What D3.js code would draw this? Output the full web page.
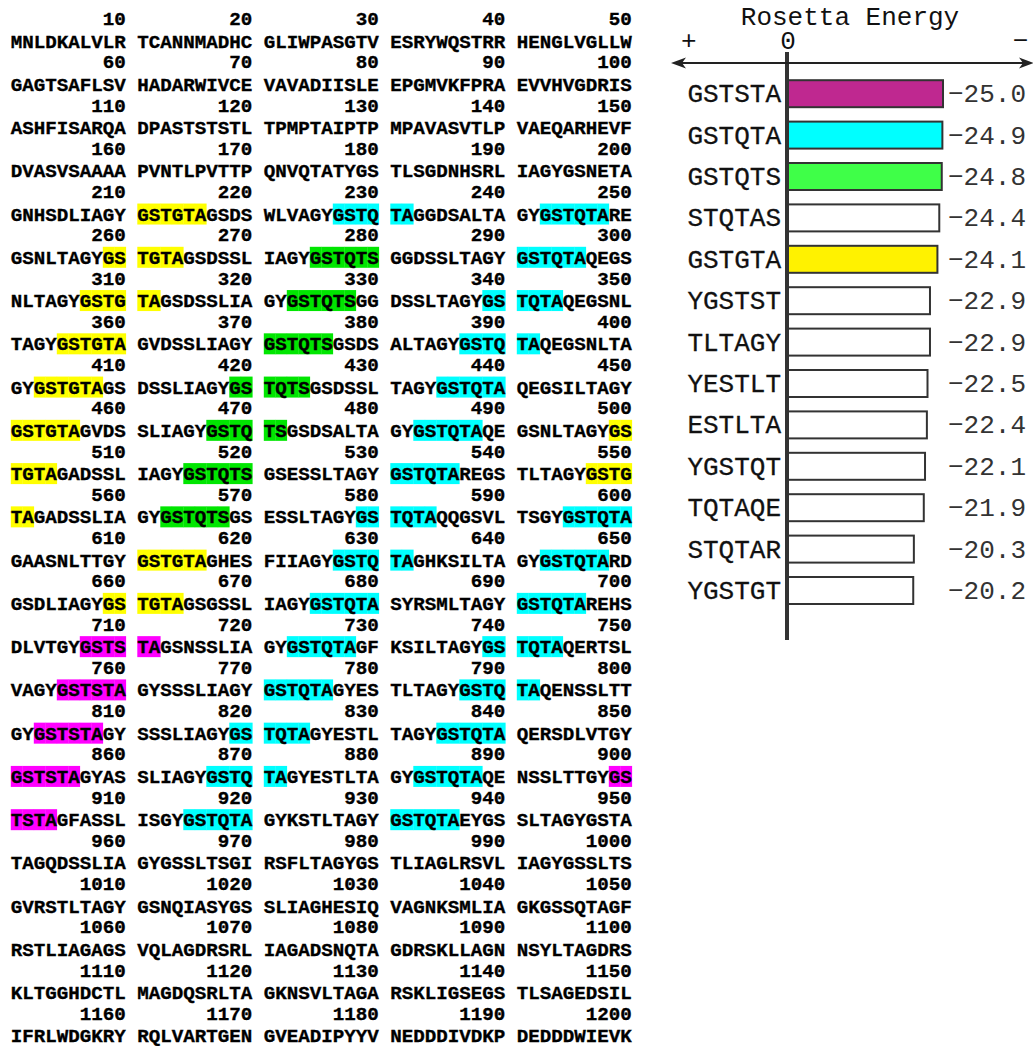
<!DOCTYPE html>
<html>
<head>
<meta charset="utf-8">
<script src="https://cdn.jsdelivr.net/npm/d3@7"></script>
<style>
  html, body { margin: 0; padding: 0; background: #fff; }
  svg { display: block; }
</style>
</head>
<body>
<svg id="fig" width="1033" height="1046"></svg>
<script>
// Protein sequence, one string per printed line (five blocks of ten residues)
const sequenceRows = [
  "MNLDKALVLR TCANNMADHC GLIWPASGTV ESRYWQSTRR HENGLVGLLW",
  "GAGTSAFLSV HADARWIVCE VAVADIISLE EPGMVKFPRA EVVHVGDRIS",
  "ASHFISARQA DPASTSTSTL TPMPTAIPTP MPAVASVTLP VAEQARHEVF",
  "DVASVSAAAA PVNTLPVTTP QNVQTATYGS TLSGDNHSRL IAGYGSNETA",
  "GNHSDLIAGY GSTGTAGSDS WLVAGYGSTQ TAGGDSALTA GYGSTQTARE",
  "GSNLTAGYGS TGTAGSDSSL IAGYGSTQTS GGDSSLTAGY GSTQTAQEGS",
  "NLTAGYGSTG TAGSDSSLIA GYGSTQTSGG DSSLTAGYGS TQTAQEGSNL",
  "TAGYGSTGTA GVDSSLIAGY GSTQTSGSDS ALTAGYGSTQ TAQEGSNLTA",
  "GYGSTGTAGS DSSLIAGYGS TQTSGSDSSL TAGYGSTQTA QEGSILTAGY",
  "GSTGTAGVDS SLIAGYGSTQ TSGSDSALTA GYGSTQTAQE GSNLTAGYGS",
  "TGTAGADSSL IAGYGSTQTS GSESSLTAGY GSTQTAREGS TLTAGYGSTG",
  "TAGADSSLIA GYGSTQTSGS ESSLTAGYGS TQTAQQGSVL TSGYGSTQTA",
  "GAASNLTTGY GSTGTAGHES FIIAGYGSTQ TAGHKSILTA GYGSTQTARD",
  "GSDLIAGYGS TGTAGSGSSL IAGYGSTQTA SYRSMLTAGY GSTQTAREHS",
  "DLVTGYGSTS TAGSNSSLIA GYGSTQTAGF KSILTAGYGS TQTAQERTSL",
  "VAGYGSTSTA GYSSSLIAGY GSTQTAGYES TLTAGYGSTQ TAQENSSLTT",
  "GYGSTSTAGY SSSLIAGYGS TQTAGYESTL TAGYGSTQTA QERSDLVTGY",
  "GSTSTAGYAS SLIAGYGSTQ TAGYESTLTA GYGSTQTAQE NSSLTTGYGS",
  "TSTAGFASSL ISGYGSTQTA GYKSTLTAGY GSTQTAEYGS SLTAGYGSTA",
  "TAGQDSSLIA GYGSSLTSGI RSFLTAGYGS TLIAGLRSVL IAGYGSSLTS",
  "GVRSTLTAGY GSNQIASYGS SLIAGHESIQ VAGNKSMLIA GKGSSQTAGF",
  "RSTLIAGAGS VQLAGDRSRL IAGADSNQTA GDRSKLLAGN NSYLTAGDRS",
  "KLTGGHDCTL MAGDQSRLTA GKNSVLTAGA RSKLIGSEGS TLSAGEDSIL",
  "IFRLWDGKRY RQLVARTGEN GVEADIPYYV NEDDDIVDKP DEDDDWIEVK"
];

// Hexapeptides ranked by Rosetta energy
const peptides = ["GSTSTA", "GSTQTA", "GSTQTS", "STQTAS", "GSTGTA", "YGSTST",
                  "TLTAGY", "YESTLT", "ESTLTA", "YGSTQT", "TQTAQE", "STQTAR", "YGSTGT"];
const energies = [-25.0, -24.9, -24.8, -24.4, -24.1, -22.9,
                  -22.9, -22.5, -22.4, -22.1, -21.9, -20.3, -20.2];

// Motifs marked in the sequence and in the bar chart
const motifs = ["GSTSTA", "GSTQTA", "GSTQTS", "GSTGTA"];

// Residue numbers printed above the end of each block
const residueTicks = d3.range(10, 1201, 10);

const svg = d3.select("#fig");

/* ---------------- sequence panel ---------------- */
const residues = sequenceRows.map(r => r.replace(/ /g, "")).join("");
const perRow = 50, blockLen = 10;

const markFill = d3.scaleOrdinal()
  .domain(motifs)
  .range(["#ff00ff", "#00ffff", "#00e600", "#ffff00"]);

// column index (counting the blank between blocks) -> x
const colX = d3.scaleLinear().domain([0, 54]).range([10.8, 10.8 + 54 * 11.5]);
const pitch = colX(1) - colX(0);
// line index -> baseline of the residue letters
const rowY = d3.scaleLinear().domain([0, 23]).range([47.5, 47.5 + 23 * 43.26]);

function cellOf(i) {            // i: zero-based residue index
  const row = Math.floor(i / perRow);
  const k = i % perRow;
  const col = Math.floor(k / blockLen) * (blockLen + 1) + (k % blockLen);
  return { row, col };
}

// motif occurrences along the sequence
const marks = [];
motifs.forEach(m => {
  let p = residues.indexOf(m);
  while (p !== -1) {
    for (let j = 0; j < m.length; j++) marks.push({ idx: p + j, motif: m });
    p = residues.indexOf(m, p + 1);
  }
});

const seqG = svg.append("g");

seqG.append("g").selectAll("rect")
  .data(marks)
  .join("rect")
  .attr("x", d => colX(cellOf(d.idx).col))
  .attr("y", d => rowY(cellOf(d.idx).row) - 17)
  .attr("width", pitch + 0.3)
  .attr("height", 21)
  .attr("fill", d => markFill(d.motif));

const monoBold = g => g
  .attr("font-family", "'Liberation Mono', 'Courier New', monospace")
  .attr("font-weight", "bold")
  .attr("font-size", 19.2)
  .attr("fill", "#000")
  .attr("stroke", "#000")
  .attr("stroke-width", 0.35);

seqG.append("g")
  .call(monoBold)
  .selectAll("text")
  .data(residues.split("").map((c, i) => ({ c, i })))
  .join("text")
  .attr("x", d => colX(cellOf(d.i).col) + pitch / 2)
  .attr("y", d => rowY(cellOf(d.i).row))
  .attr("text-anchor", "middle")
  .text(d => d.c);

seqG.append("g")
  .call(monoBold)
  .selectAll("text")
  .data(residueTicks)
  .join("text")
  .attr("x", n => colX(cellOf(n - 1).col) + pitch)
  .attr("y", n => rowY(cellOf(n - 1).row) - 22.5)
  .attr("text-anchor", "end")
  .text(n => n);

/* ---------------- Rosetta energy bars ---------------- */
const x = d3.scaleLinear().domain([0, -25]).range([788, 943]);
const y = d3.scaleBand()
  .domain(peptides)
  .range([73, 73 + 13 * 41.4])
  .paddingInner(0.348)
  .paddingOuter(0.174);

const barFill = d3.scaleOrdinal()
  .domain(motifs)
  .range(["#bf2890", "#00ffff", "#3fff48", "#fff200"])
  .unknown("#ffffff");

const chart = svg.append("g")
  .attr("font-family", "'Liberation Mono', 'Courier New', monospace");

const rows = peptides.map((p, i) => ({ p, e: energies[i] }));

chart.append("g").selectAll("rect")
  .data(rows)
  .join("rect")
  .attr("x", x(0))
  .attr("y", d => y(d.p))
  .attr("width", d => x(d.e) - x(0))
  .attr("height", y.bandwidth())
  .attr("fill", d => barFill(d.p))
  .attr("stroke", "#333")
  .attr("stroke-width", 2);

chart.append("g").selectAll("text")
  .data(rows)
  .join("text")
  .attr("x", 781)
  .attr("y", d => y(d.p) + y.bandwidth() / 2 + 8.5)
  .attr("text-anchor", "end")
  .attr("font-size", 26)
  .attr("fill", "#111")
  .attr("stroke", "#111")
  .attr("stroke-width", 0.3)
  .text(d => d.p);

const fmt = d3.format(".1f");
chart.append("g").selectAll("text")
  .data(rows)
  .join("text")
  .attr("x", 948)
  .attr("y", d => y(d.p) + y.bandwidth() / 2 + 8.5)
  .attr("font-size", 26)
  .attr("fill", "#333")
  .text(d => fmt(d.e));

// zero line
chart.append("line")
  .attr("x1", x(0) - 1).attr("x2", x(0) - 1)
  .attr("y1", 52).attr("y2", 640)
  .attr("stroke", "#333").attr("stroke-width", 4);

// double-headed direction arrow
const arrowY = 63;
chart.append("line")
  .attr("x1", 680).attr("x2", 1024)
  .attr("y1", arrowY).attr("y2", arrowY)
  .attr("stroke", "#222").attr("stroke-width", 2);
const head = (tip, dir) =>
  `M${tip},${arrowY} L${tip + dir * 15},${arrowY - 5.5} L${tip + dir * 11},${arrowY} L${tip + dir * 15},${arrowY + 5.5} Z`;
chart.append("path").attr("d", head(671, 1)).attr("fill", "#222");
chart.append("path").attr("d", head(1034, -1)).attr("fill", "#222");

chart.append("text")
  .attr("x", 850).attr("y", 25)
  .attr("text-anchor", "middle")
  .attr("font-size", 26)
  .attr("fill", "#111")
  .text("Rosetta Energy");

const signs = [{ t: "+", v: 16 }, { t: "0", v: 0 }, { t: "\u2212", v: -37.5 }];
chart.append("g").selectAll("text")
  .data(signs)
  .join("text")
  .attr("x", d => x(d.v))
  .attr("y", 49)
  .attr("text-anchor", "middle")
  .attr("font-size", 26)
  .attr("fill", "#111")
  .text(d => d.t);
</script>
</body>
</html>
